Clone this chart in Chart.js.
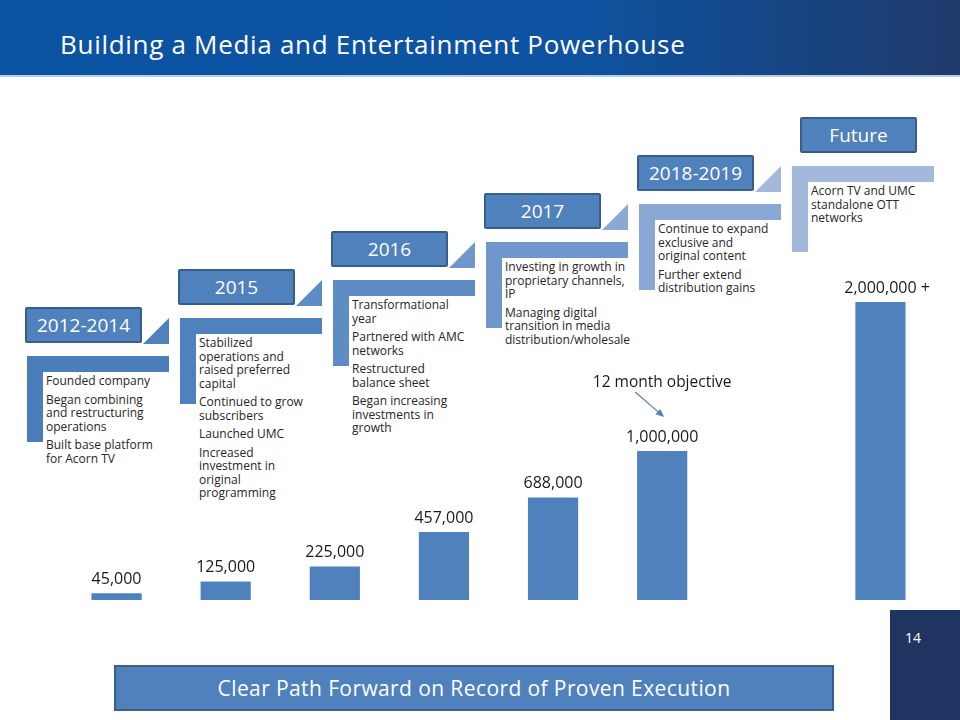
<!DOCTYPE html>
<html>
<head>
<meta charset="utf-8">
<script src="https://cdn.jsdelivr.net/npm/chart.js@4"></script>
<style>
  body { margin: 0; background: #fff; }
  #slide { position: relative; width: 960px; height: 720px; overflow: hidden; background: #fff; font-family: "Open Sans", sans-serif; }
  .header { position: absolute; left: 0; top: 0; width: 960px; height: 75px; border-bottom: 2px solid #b8cce4;
            background: linear-gradient(90deg, #0b54a3 0%, #0d53a1 60%, #1f3a6c 100%); }
  .header h1 { margin: 0; position: absolute; left: 60px; top: 26px; font-size: 26px; letter-spacing: 0.7px; font-weight: 400; color: #fff; white-space: nowrap; }
  #chart { position: absolute; left: 0; top: 0; z-index: 2; }
  .bar-h, .bar-v, .tri, .year, .notes { position: absolute; }
  .year { background: #4f81bd; border: 2px solid #385d8a; box-sizing: border-box; border-radius: 2px;
          color: #fff; font-size: 19px; text-align: center; line-height: 32px; }
  .tri { clip-path: polygon(100% 0, 100% 100%, 0 100%); }
  .notes { font-size: 12px; line-height: 13.5px; color: #262626; white-space: nowrap; }
  .notes p { margin: 0 0 5px 0; }
  .pagenum { position: absolute; left: 890px; top: 610px; width: 70px; height: 110px; background: #1f3461; color: #fff; font-size: 14px; }
  .pagenum span { position: absolute; left: 15px; top: 18px; }
  .banner { position: absolute; left: 114px; top: 665px; width: 720px; height: 46px; box-sizing: border-box;
            background: #4f81bd; border: 2px solid #385d8a; color: #fff; font-size: 21px; letter-spacing: 0.4px; text-align: center; line-height: 42px; }
</style>
</head>
<body>
<div id="slide">
  <div class="header"><h1>Building a Media and Entertainment Powerhouse</h1></div>
  <div id="stages"></div>
  <canvas id="chart" width="960" height="720"></canvas>
  <div class="pagenum"><span>14</span></div>
  <div class="banner">Clear Path Forward on Record of Proven Execution</div>
</div>
<script>
// bar data (slot 7 is left empty in the original)
const barSlots = ['1', '2', '3', '4', '5', '6', '', '7'];
const subscribers = [45000, 125000, 225000, 457000, 688000, 1000000, null, 2000000];
const valueSuffix = ['', '', '', '', '', '', '', ' +'];
const objectiveIndex = 5;
const objectiveText = '12 month objective';

// timeline steps
const stageYears = ['2012-2014', '2015', '2016', '2017', '2018-2019', 'Future'];
const stageNotes = [
    [['Founded company'], ['Began combining', 'and restructuring', 'operations'], ['Built base platform', 'for Acorn TV']],
    [['Stabilized', 'operations and', 'raised preferred', 'capital'], ['Continued to grow', 'subscribers'], ['Launched UMC'], ['Increased', 'investment in', 'original', 'programming']],
    [['Transformational', 'year'], ['Partnered with AMC', 'networks'], ['Restructured', 'balance sheet'], ['Began increasing', 'investments in', 'growth']],
    [['Investing in growth in', 'proprietary channels,', 'IP'], ['Managing digital', 'transition in media', 'distribution/wholesale']],
    [['Continue to expand', 'exclusive and', 'original content'], ['Further extend', 'distribution gains']],
    [['Acorn TV and UMC', 'standalone OTT', 'networks']]
];
const stageColors = ['#4a7ebb', '#4f81bd', '#5e8cc4', '#7097cb', '#8aa8d4', '#a3b9dc'];

// VẼ CÁC BẬC THANG
const stagesEl = document.getElementById('stages');
stageYears.forEach((year, i) => {
    const lx = 27 + 153 * i;
    const ly = 356 - 38 * i;
    const col = stageColors[i];
    const boxX = i === stageYears.length - 1 ? lx + 8 : lx - 2;
    let html = `
        <div class="bar-h" style="left:${lx}px;top:${ly}px;width:142px;height:16px;background:${col}"></div>
        <div class="bar-v" style="left:${lx}px;top:${ly}px;width:16px;height:86px;background:${col}"></div>
        <div class="year" style="left:${boxX}px;top:${ly - 49}px;width:117px;height:36px">${year}</div>
        <div class="notes" style="left:${lx + 19}px;top:${ly + 18}px">${stageNotes[i].map(p => `<p>${p.join('<br>')}</p>`).join('')}</div>`;
    if (i < stageYears.length - 1) {
        html += `<div class="tri" style="left:${lx + 116}px;top:${ly - 38}px;width:26px;height:26px;background:${stageColors[i + 1]}"></div>`;
    }
    stagesEl.insertAdjacentHTML('beforeend', html);
});

// nhãn giá trị + chú thích mũi tên
const labelPlugin = {
    id: 'barLabels',
    afterDatasetsDraw(chart) {
        const ctx = chart.ctx;
        const meta = chart.getDatasetMeta(0);
        ctx.save();
        ctx.font = '16px "Open Sans"';
        ctx.fillStyle = '#1a1a1a';
        ctx.textBaseline = 'alphabetic';
        ctx.textAlign = 'left';
        meta.data.forEach((bar, i) => {
            const v = subscribers[i];
            if (v === null) return;
            const txt = v.toLocaleString('en-US');
            const w = ctx.measureText(txt).width;
            ctx.fillText(txt + valueSuffix[i], bar.x - w / 2, bar.y - 9);
        });

        const ob = meta.data[objectiveIndex];
        ctx.font = '15.5px "Open Sans"';
        ctx.textAlign = 'center';
        ctx.fillText(objectiveText, ob.x, ob.y - 64);

        const x1 = ob.x - 27, y1 = ob.y - 59, x2 = ob.x + 2, y2 = ob.y - 34;
        const ang = Math.atan2(y2 - y1, x2 - x1);
        ctx.strokeStyle = '#4f81bd';
        ctx.fillStyle = '#4f81bd';
        ctx.lineWidth = 1.2;
        ctx.beginPath();
        ctx.moveTo(x1, y1);
        ctx.lineTo(x2 - 6 * Math.cos(ang), y2 - 6 * Math.sin(ang));
        ctx.stroke();
        ctx.beginPath();
        ctx.moveTo(x2, y2);
        ctx.lineTo(x2 - 9 * Math.cos(ang - 0.4), y2 - 9 * Math.sin(ang - 0.4));
        ctx.lineTo(x2 - 9 * Math.cos(ang + 0.4), y2 - 9 * Math.sin(ang + 0.4));
        ctx.closePath();
        ctx.fill();
        ctx.restore();
    }
};

new Chart(document.getElementById('chart').getContext('2d'), {
    type: 'bar',
    data: {
        labels: barSlots,
        datasets: [{ data: subscribers, backgroundColor: '#4f81bd', borderWidth: 0, categoryPercentage: 1, barPercentage: 0.46 }]
    },
    options: {
        responsive: false,
        animation: false,
        devicePixelRatio: 1,
        layout: { padding: { left: 62, right: 25, top: 302, bottom: 120 } },
        plugins: { legend: { display: false }, tooltip: { enabled: false } },
        scales: {
            x: { display: false },
            y: { display: false, min: 0, max: 2000000 }
        }
    },
    plugins: [labelPlugin]
});
</script>
</body>
</html>
